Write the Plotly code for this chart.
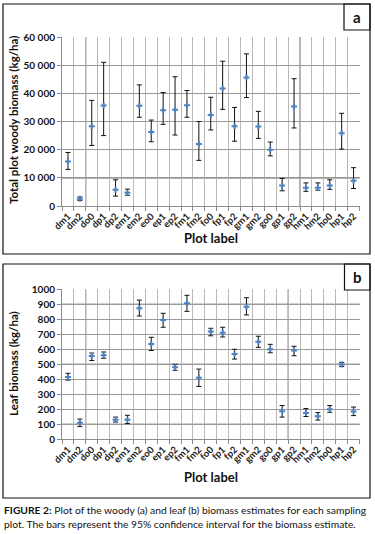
import plotly.graph_objects as go

categories = ["dm1", "dm2", "do0", "dp1", "dp2", "em1", "em2", "eo0", "ep1", "ep2",
              "fm1", "fm2", "fo0", "fp1", "fp2", "gm1", "gm2", "go0", "gp1", "gp2",
              "hm1", "hm2", "ho0", "hp1", "hp2"]

woody = [15800, 2600, 28300, 35700, 5800, 4700, 35600, 26300, 34000, 34200,
         35800, 22000, 32300, 41700, 28300, 45600, 28200, 20000, 7300, 35300,
         6500, 6500, 7300, 25800, 9000]
woody_lo = [13000, 2000, 21500, 25000, 3500, 3800, 31500, 22800, 29000, 25200,
            31500, 16200, 27000, 34300, 23000, 38500, 24000, 17800, 5400, 27700,
            5200, 5600, 5900, 20200, 6200]
woody_hi = [19000, 3200, 37500, 51000, 9300, 6000, 43000, 30500, 40300, 45900,
            41000, 30000, 38600, 51400, 35000, 54000, 33600, 22700, 9800, 45200,
            8200, 8200, 9300, 32900, 13600]

leaf = [415, 110, 555, 560, 130, 130, 873, 635, 795, 480,
        907, 410, 718, 711, 568, 884, 650, 600, 187, 592,
        175, 153, 200, 498, 185]
leaf_lo = [395, 85, 525, 540, 115, 105, 822, 592, 747, 460,
           853, 352, 690, 682, 535, 829, 613, 577, 148, 557,
           152, 128, 180, 485, 158]
leaf_hi = [440, 135, 575, 582, 148, 160, 928, 680, 840, 500,
           960, 468, 740, 747, 600, 944, 687, 633, 225, 620,
           205, 178, 225, 513, 215]

W, H = 375, 534
FONT = "Lato"
BLUE = "#4F81BD"


def px(x):
    return x / W


def py(y):
    return 1 - y / H


def trace(vals, lo, hi, xa, ya):
    return go.Scatter(
        x=categories, y=vals, mode="markers", xaxis=xa, yaxis=ya,
        marker=dict(symbol="cross", size=5, color=BLUE, line=dict(width=0)),
        error_y=dict(type="data", symmetric=False,
                     array=[h - v for h, v in zip(hi, vals)],
                     arrayminus=[v - l for v, l in zip(vals, lo)],
                     color="#111111", thickness=1, width=2.5),
        showlegend=False, hoverinfo="x+y")


fig = go.Figure()
fig.add_trace(trace(woody, woody_lo, woody_hi, "x", "y"))
fig.add_trace(trace(leaf, leaf_lo, leaf_hi, "x2", "y2"))

xcommon = dict(type="category", categoryorder="array", categoryarray=categories,
               tickmode="linear", tick0=0, dtick=1, automargin=False,
               tickson="boundaries", showgrid=True, gridcolor="#b8b8b8", gridwidth=1,
               showline=True, linecolor="#8c8c8c", linewidth=1,
               ticks="outside", ticklen=4, tickcolor="#8c8c8c",
               tickangle=-45, tickfont=dict(family=FONT, size=9.5, color="#222222", weight="bold"),
               zeroline=False, fixedrange=True, range=[-0.5, 24.5])
ycommon = dict(showgrid=True, gridcolor="#999999", gridwidth=1, automargin=False,
               showline=True, linecolor="#8c8c8c", linewidth=1,
               ticks="outside", ticklen=4, tickcolor="#8c8c8c",
               tickfont=dict(family=FONT, size=10, color="#111111", weight="bold"),
               zeroline=False, fixedrange=True)

fig.update_layout(
    width=W, height=H, autosize=False,
    margin=dict(l=0, r=0, t=0, b=0, pad=0),
    paper_bgcolor="white", plot_bgcolor="white",
    separators=". ",
    font=dict(family=FONT, color="#111111"),
    xaxis=dict(xcommon, domain=[px(62), px(359.5)], anchor="y"),
    yaxis=dict(ycommon, domain=[py(206), py(37)], anchor="x",
               range=[0, 60000], dtick=10000, tickformat=",d"),
    xaxis2=dict(xcommon, domain=[px(62), px(359.5)], anchor="y2"),
    yaxis2=dict(ycommon, domain=[py(439.3), py(289.3)], anchor="x2",
                range=[0, 1000], dtick=100, tickformat="d"),
)

shapes = []
# darker gridlines (as in the scanned reference)
for yv in [10000]:
    shapes.append(dict(type="line", xref="x domain", yref="y", x0=0, x1=1, y0=yv, y1=yv,
                       line=dict(color="#111111", width=1), layer="below"))
for xv in [1.5, 19.5]:
    shapes.append(dict(type="line", xref="x", yref="y domain", x0=xv, x1=xv, y0=0, y1=1,
                       line=dict(color="#666666", width=1), layer="below"))
for yv in [100, 500, 900]:
    shapes.append(dict(type="line", xref="x2 domain", yref="y2", x0=0, x1=1, y0=yv, y1=yv,
                       line=dict(color="#111111", width=1), layer="below"))
for xv in [1.5, 18.5]:
    shapes.append(dict(type="line", xref="x2", yref="y2 domain", x0=xv, x1=xv, y0=0, y1=1,
                       line=dict(color="#777777", width=1), layer="below"))

# panel frames and letter boxes
for (x0, y0, x1, y1) in [(3, 4, 370, 254), (3, 264, 370, 498), (344, 4, 370, 30), (344.5, 264, 370, 290)]:
    shapes.append(dict(type="rect", xref="paper", yref="paper",
                       x0=px(x0), x1=px(x1), y0=py(y1), y1=py(y0),
                       line=dict(color="#111111", width=1.2), fillcolor="rgba(0,0,0,0)"))
fig.update_layout(shapes=shapes)


def note(text, x, y, size, angle=0, xanchor="center"):
    return dict(text=text, x=px(x), y=py(y), xref="paper", yref="paper",
                xanchor=xanchor, yanchor="middle", showarrow=False, textangle=angle,
                font=dict(size=size, family=FONT, color="#111111"))


ann = [
    note("<b>a</b>", 357, 17, 15),
    note("<b>b</b>", 357.3, 277, 15),
    note("<b>Total plot woody biomass (kg/ha)</b>", 13, 120, 11.5, angle=-90),
    note("<b>Leaf biomass (kg/ha)</b>", 13, 364, 11.5, angle=-90),
    note("<b>Plot label</b>", 211, 238, 13),
    note("<b>Plot label</b>", 211, 477, 13),
    note("<b>FIGURE 2:</b> Plot of the woody (a) and leaf (b) biomass estimates for each sampling",
         2, 510, 10.3, xanchor="left"),
    note("plot. The bars represent the 95% confidence interval for the biomass estimate.",
         2, 524, 10.3, xanchor="left"),
]
fig.update_layout(annotations=ann)

fig.write_html("out.html", config={"displayModeBar": False},
               post_script="document.body.style.margin='0';")
